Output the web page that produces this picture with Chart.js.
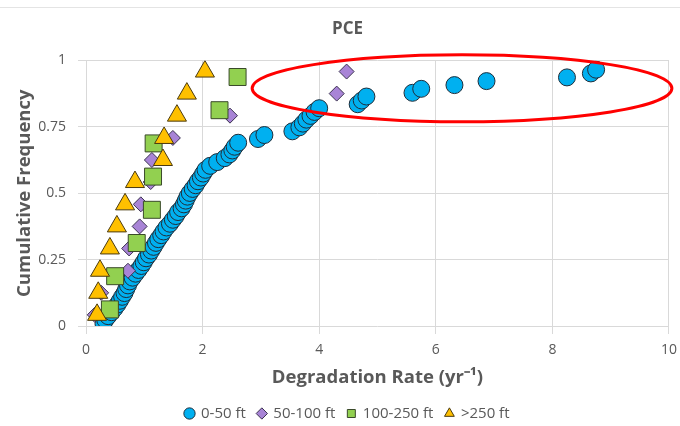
<!DOCTYPE html>
<html>
<head>
<meta charset="utf-8">
<script src="https://cdn.jsdelivr.net/npm/chart.js@4.4.0/dist/chart.umd.min.js"></script>
<style>
  body { margin: 0; background: #fff; }
  .wrap { width: 680px; height: 426px; position: relative; overflow: hidden; }
  .inner { width: 685px; height: 431px; position: relative; }
  .topline { position: absolute; left: 0; right: 0; top: 7px; border-top: 1px solid #e4e4e4; }
</style>
</head>
<body>
<div class="wrap">
  <div class="topline"></div>
  <div class="inner"><canvas id="myChart"></canvas></div>
</div>
<script>
// 0-50 ft
const rate0_50 = [0.30, 0.33, 0.38, 0.44, 0.49, 0.54, 0.58, 0.62, 0.66, 0.69,
  0.72, 0.75, 0.80, 0.85, 0.90, 0.95, 0.99, 1.03, 1.08, 1.12,
  1.16, 1.20, 1.24, 1.29, 1.33, 1.38, 1.44, 1.49, 1.54, 1.58,
  1.64, 1.68, 1.71, 1.74, 1.78, 1.83, 1.88, 1.92, 1.97, 2.01,
  2.05, 2.13, 2.25, 2.38, 2.46, 2.51, 2.55, 2.61, 2.95, 3.06,
  3.54, 3.66, 3.72, 3.78, 3.85, 3.92, 4.00, 4.66, 4.73, 4.81,
  5.60, 5.75, 6.32, 6.87, 8.25, 8.66, 8.75];
const freq0_50 = [0.008, 0.023, 0.037, 0.052, 0.066, 0.081, 0.095, 0.110, 0.124, 0.139,
  0.153, 0.168, 0.182, 0.197, 0.211, 0.226, 0.240, 0.255, 0.269, 0.284,
  0.298, 0.313, 0.327, 0.342, 0.356, 0.371, 0.385, 0.400, 0.414, 0.429,
  0.443, 0.458, 0.472, 0.487, 0.501, 0.516, 0.530, 0.545, 0.559, 0.574,
  0.588, 0.603, 0.617, 0.632, 0.646, 0.661, 0.675, 0.690, 0.704, 0.719,
  0.733, 0.748, 0.762, 0.777, 0.791, 0.806, 0.820, 0.835, 0.849, 0.864,
  0.878, 0.893, 0.907, 0.922, 0.936, 0.951, 0.965];

// 50-100 ft
const rate50_100 = [0.15, 0.26, 0.72, 0.74, 0.92, 0.94, 1.11, 1.13, 1.49, 2.47, 4.30, 4.47];
const freq50_100 = [0.042, 0.125, 0.208, 0.292, 0.375, 0.458, 0.542, 0.625, 0.708, 0.792, 0.875, 0.958];

// 100-250 ft
const rate100_250 = [0.41, 0.50, 0.87, 1.13, 1.15, 1.16, 2.29, 2.60];
const freq100_250 = [0.0625, 0.1875, 0.3125, 0.4375, 0.5625, 0.6875, 0.8125, 0.9375];

// >250 ft
const rate250 = [0.19, 0.21, 0.24, 0.41, 0.53, 0.67, 0.84, 1.32, 1.34, 1.56, 1.73, 2.04];
const freq250 = [0.042, 0.125, 0.208, 0.292, 0.375, 0.458, 0.542, 0.625, 0.708, 0.792, 0.875, 0.958];

const xTicks = [0, 2, 4, 6, 8, 10];
const yTicks = [0, 0.25, 0.5, 0.75, 1];

// red circle drawn round the tail (data units)
const ring = { cx: 6.45, cy: 0.895, rx: 3.6, ry: 0.126 };

const pts = (xs, ys) => xs.map((x, i) => ({ x: x, y: ys[i] }));

const ringPlugin = {
  id: 'ring',
  afterDatasetsDraw(chart) {
    const c = chart.ctx, xs = chart.scales.x, ys = chart.scales.y;
    const cx = xs.getPixelForValue(ring.cx), cy = ys.getPixelForValue(ring.cy);
    const rx = xs.getPixelForValue(ring.cx + ring.rx) - cx;
    const ry = cy - ys.getPixelForValue(ring.cy + ring.ry);
    c.save();
    c.beginPath();
    c.ellipse(cx, cy, rx, ry, 0, 0, Math.PI * 2);
    c.strokeStyle = '#ff0000';
    c.lineWidth = 3;
    c.stroke();
    c.restore();
  }
};

const grey = '#595959';
const font = "'Open Sans', sans-serif";

const ctx = document.getElementById('myChart').getContext('2d');
new Chart(ctx, {
  type: 'scatter',
  data: {
    datasets: [
      { label: '0-50 ft', data: pts(rate0_50, freq0_50), pointStyle: 'circle', pointRadius: 8.5,
        backgroundColor: '#00b0f0', borderColor: '#1e2d3a', borderWidth: 1, order: 3 },
      { label: '50-100 ft', data: pts(rate50_100, freq50_100), pointStyle: 'rectRot', pointRadius: 7.5,
        backgroundColor: '#a884d6', borderColor: '#3b3350', borderWidth: 1, order: 2 },
      { label: '100-250 ft', data: pts(rate100_250, freq100_250), pointStyle: 'rect', pointRadius: 12,
        backgroundColor: '#92d050', borderColor: '#3a4a2a', borderWidth: 1, order: 1 },
      { label: '>250 ft', data: pts(rate250, freq250), pointStyle: 'triangle', pointRadius: 11,
        backgroundColor: '#ffc000', borderColor: '#4a3a10', borderWidth: 1, order: 0 }
    ]
  },
  options: {
    responsive: true,
    maintainAspectRatio: false,
    animation: false,
    layout: { padding: { left: 10, right: 0, top: 6, bottom: 0 } },
    plugins: {
      title: { display: true, text: 'PCE', color: grey, font: { family: font, size: 17, weight: 'bold' },
        padding: { top: 13, bottom: 21 } },
      legend: { position: 'bottom',
        labels: { usePointStyle: true, boxWidth: 8, boxHeight: 8, color: grey, padding: 12,
          font: { family: font, size: 15 },
          sort: (a, b) => a.datasetIndex - b.datasetIndex } },
      tooltip: { enabled: false }
    },
    scales: {
      x: { min: 0, max: 10,
        afterBuildTicks: (s) => { s.ticks = xTicks.map(v => ({ value: v })); },
        grid: { color: '#d9d9d9' }, border: { display: false },
        ticks: { color: grey, font: { family: font, size: 14 }, padding: 8,
          callback: (v) => String(v) },
        title: { display: true, text: 'Degradation Rate (yr\u207B\u00B9)', color: grey,
          font: { family: font, size: 18.5, weight: 'bold' }, padding: { top: 0, bottom: 5 } } },
      y: { min: 0, max: 1,
        afterBuildTicks: (s) => { s.ticks = yTicks.map(v => ({ value: v })); },
        afterFit: (s) => { s.width = 76; },
        grid: { color: '#d9d9d9' }, border: { display: false },
        ticks: { color: grey, font: { family: font, size: 14 }, padding: 12,
          callback: (v) => String(v) },
        title: { display: true, text: 'Cumulative Frequency', color: grey,
          font: { family: font, size: 18.5, weight: 'bold' } } }
    }
  },
  plugins: [ringPlugin]
});
</script>
</body>
</html>
